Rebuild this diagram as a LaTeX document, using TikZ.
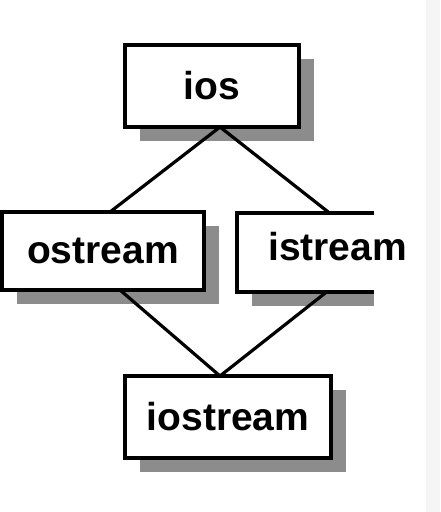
\documentclass[tikz,border=0pt]{standalone}
\usepackage{fontspec}
\setmainfont{Liberation Sans}
\usetikzlibrary{shadows}
\begin{document}
\begin{tikzpicture}[x=1pt,y=-1pt,
  labelfont/.style={font=\fontsize{39}{47}\selectfont\bfseries},
  box/.style={draw=black, line width=3.2pt, fill=white, inner sep=0pt, outer sep=0pt,
    labelfont,
    drop shadow={shadow xshift=15pt, shadow yshift=-14pt, fill=black!45, opacity=1}},
  shadowfill/.style={fill=black!45},
  link/.style={line width=3.2pt, line cap=round}]
\useasboundingbox (0,0) rectangle (440,512);
\fill[black!4] (426,0) rectangle (440,512);
% istream (box cut off on the right)
\fill[shadowfill] (252,227) rectangle (374,306);
\node[fill=white, inner sep=0pt, outer sep=0pt, minimum width=137pt, minimum height=79pt] (istream) at (305.5,252.5) {};
\draw[line width=3.2pt] (istream.north east) -- (istream.north west) -- (istream.south west) -- (istream.south east);
\node[anchor=base west, inner sep=0pt, labelfont] (istreamtext) at (268,260) {istream};
% other boxes
\node[box, minimum width=174pt, minimum height=82pt] (ios) at (212,86) {ios};
\node[box, minimum width=202pt, minimum height=78pt] (ostream) at (103,251) {ostream};
\node[box, minimum width=206pt, minimum height=82pt] (iostream) at (228,417) {iostream};
% connectors
\draw[link] ([xshift=8pt]ios.south) -- ([xshift=7pt]ostream.north);
\draw[link] ([xshift=8pt]ios.south) -- ([xshift=24pt]istream.north);
\draw[link] ([xshift=17pt]ostream.south) -- ([xshift=-8pt]iostream.north);
\draw[link] ([xshift=21pt]istream.south) -- ([xshift=-8pt]iostream.north);
\end{tikzpicture}
\end{document}
